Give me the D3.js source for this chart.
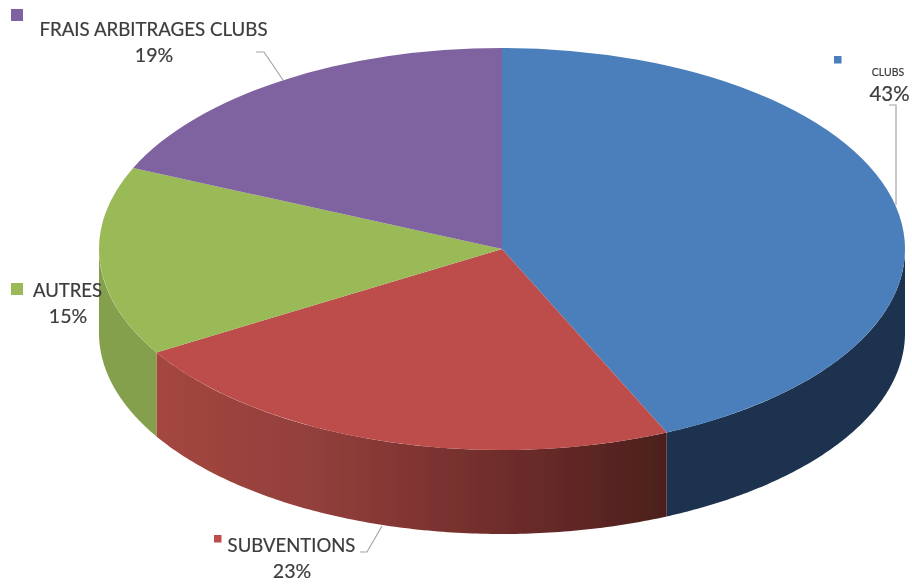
<!DOCTYPE html>
<html><head><meta charset="utf-8">
<script src="https://cdn.jsdelivr.net/npm/d3@7/dist/d3.min.js"></script>
<style>html,body{margin:0;padding:0;background:#fff}svg{display:block}text{font-family:Lato,"Open Sans",sans-serif;fill:#3c3c3c;stroke:#3c3c3c;stroke-width:.2px}</style>
</head><body><svg id="c" width="912" height="586"></svg>
<script>
const categories = ["CLUBS","SUBVENTIONS","AUTRES","FRAIS ARBITRAGES CLUBS"];
const shares = [43.3,23.1,15.2,18.4];
const percentLabels = ["43%","23%","15%","19%"];
const topColors = ["#4c7fbb","#bd4e4b","#9aba58","#7f63a1"];
const wallColors = ["#1c3350","url(#redWall)","#84a04e","#5f4a7a"];

const W=912,H=586,cx=502,cy=249,rx=403,ry=201,depth=84;
const svg=d3.select("#c");
const defs=svg.append("defs");
const grad=defs.append("linearGradient").attr("id","redWall").attr("gradientUnits","userSpaceOnUse")
  .attr("x1",156).attr("x2",668).attr("y1",0).attr("y2",0);
[[0,"#a4463f"],[.3,"#93403c"],[.55,"#7c3230"],[.8,"#622826"],[1,"#4b1f1b"]].forEach(([o,c])=>grad.append("stop").attr("offset",o).attr("stop-color",c));
const blur=defs.append("filter").attr("id","soft").attr("x","-5%").attr("y","-5%").attr("width","110%").attr("height","110%");
blur.append("feGaussianBlur").attr("stdDeviation",0.5);

const arcs=d3.pie().sort(null)(shares);
const px=a=>cx+rx*Math.sin(a), py=a=>cy-ry*Math.cos(a);
const root=svg.append("g").attr("filter","url(#soft)");

// walls: only the front half of the rim is seen
const wall=d3.area().x(a=>px(a)).y0(a=>py(a)).y1(a=>py(a)+depth);
const walls=root.append("g");
arcs.forEach((d,i)=>{
  const a0=Math.max(d.startAngle,Math.PI/2), a1=Math.min(d.endAngle,3*Math.PI/2);
  if(a1<=a0) return;
  const n=120, angles=d3.range(n+1).map(k=>a0+(a1-a0)*k/n);
  walls.append("path").attr("d",wall(angles)).attr("fill",wallColors[i]);
});

// top face: a d3 arc squeezed into an ellipse
const arc=d3.arc().innerRadius(0).outerRadius(rx);
root.append("g").attr("transform",`translate(${cx},${cy}) scale(1,${ry/rx})`)
  .selectAll("path").data(arcs).join("path").attr("d",arc).attr("fill",(d,i)=>topColors[i]);

// leader lines
const leaders=[[[889,105],[896,105],[896,205]],[[360,552],[367,552],[382,526]],[[256,52],[264,52],[283,80]]];
const line=d3.line();
root.append("g").selectAll("path").data(leaders).join("path").attr("d",line)
  .attr("fill","none").attr("stroke","#a6a6a6").attr("stroke-width",1.2);

// labels
const layout=[
 {sq:[834,56,7.5],name:[888,76,10.5],pct:[889.5,101,20.5]},
 {sq:[214,535,7.5],name:[291.5,552,18.5],pct:[292,578,19.6]},
 {sq:[11,283,12],name:[67.5,297,18.5],pct:[68,323,19.6]},
 {sq:[11,9,12],name:[153.5,36,18.7],pct:[154,62,19.6]}
];
const lab=root.append("g");
layout.forEach((l,i)=>{
  lab.append("rect").attr("x",l.sq[0]).attr("y",l.sq[1]).attr("width",l.sq[2]).attr("height",l.sq[2]).attr("fill",topColors[i]);
  lab.append("text").attr("x",l.name[0]).attr("y",l.name[1]).attr("text-anchor","middle").attr("font-size",l.name[2]).text(categories[i]);
  lab.append("text").attr("x",l.pct[0]).attr("y",l.pct[1]).attr("text-anchor","middle").attr("font-size",l.pct[2]).text(percentLabels[i]);
});
</script></body></html>
